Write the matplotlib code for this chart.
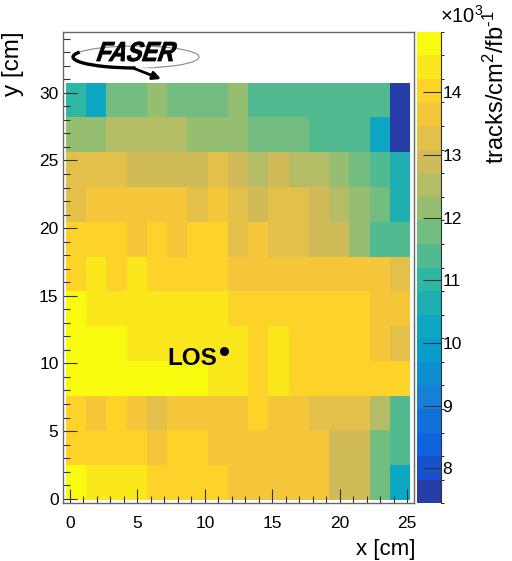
import numpy as np
import matplotlib
matplotlib.use('Agg')
import matplotlib.pyplot as plt
from matplotlib.colors import LinearSegmentedColormap, ListedColormap, BoundaryNorm
from matplotlib.patches import Arc, PathPatch
from matplotlib.textpath import TextPath
from matplotlib.font_manager import FontProperties
from matplotlib.transforms import Affine2D
from matplotlib.ticker import MultipleLocator

plt.rcParams['font.family'] = ['Liberation Sans', 'DejaVu Sans']
plt.rcParams['mathtext.fontset'] = 'custom'
plt.rcParams['mathtext.rm'] = 'Liberation Sans'
plt.rcParams['mathtext.it'] = 'Liberation Sans:italic'
plt.rcParams['mathtext.bf'] = 'Liberation Sans:bold'

# ---------------- data (units of 10^3 tracks/cm^2/fb^-1) ----------------
# rows listed from bottom (y ~ 0 cm) to top (y ~ 30 cm); 17 columns in x
row_00 = [14.8, 14.4, 14.4, 14.4, 14.0, 14.0, 14.0, 14.0, 13.65, 13.65, 13.65, 13.65, 13.65, 12.9, 12.9, 11.75, 10.25]
row_01 = [14.0, 14.0, 14.0, 14.0, 13.65, 14.0, 14.0, 13.65, 13.65, 13.65, 13.65, 13.65, 13.65, 12.9, 12.9, 11.75, 11.4]
row_02 = [14.0, 13.65, 14.0, 13.65, 13.3, 13.65, 13.65, 13.65, 13.65, 14.0, 13.65, 13.65, 13.3, 13.3, 13.3, 12.5, 11.4]
row_03 = [14.8, 14.8, 14.8, 14.8, 14.8, 14.8, 14.8, 14.4, 14.4, 14.0, 14.4, 14.0, 14.0, 14.0, 14.0, 14.0, 14.0]
row_04 = [14.8, 14.8, 14.8, 14.4, 14.4, 14.4, 14.4, 14.4, 14.4, 14.0, 14.4, 14.0, 14.0, 14.0, 14.0, 13.65, 13.3]
row_05 = [14.8, 14.4, 14.4, 14.4, 14.4, 14.4, 14.4, 14.4, 14.0, 14.0, 14.0, 14.0, 14.0, 14.0, 14.0, 13.65, 13.65]
row_06 = [14.0, 14.4, 14.0, 14.4, 14.0, 14.0, 14.0, 14.0, 13.65, 13.65, 13.65, 13.65, 13.65, 13.65, 13.65, 13.65, 13.3]
row_07 = [14.0, 14.0, 14.0, 13.65, 14.0, 13.65, 14.0, 14.0, 13.3, 13.65, 13.3, 13.3, 12.9, 12.9, 12.15, 11.4, 11.4]
row_08 = [13.3, 13.65, 13.65, 13.65, 13.65, 13.65, 13.3, 13.65, 13.3, 12.9, 13.3, 13.3, 12.9, 12.5, 12.15, 11.75, 10.65]
row_09 = [13.3, 13.3, 13.3, 12.9, 12.9, 12.9, 12.9, 13.3, 12.9, 12.5, 12.9, 12.5, 12.5, 12.15, 11.75, 11.4, 10.65]
row_10 = [12.15, 12.15, 12.5, 12.5, 12.5, 12.5, 12.15, 12.15, 12.15, 11.75, 11.75, 11.75, 11.4, 11.4, 11.4, 10.25, 7.6]
row_11 = [11.0, 10.25, 11.75, 11.75, 12.15, 11.75, 11.75, 11.75, 12.15, 11.4, 11.4, 11.4, 11.4, 11.4, 11.4, 11.4, 7.6]

z_min, z_max = 7.44, 14.97          # colour scale range (x10^3)
cbar_ticks = [8, 9, 10, 11, 12, 13, 14]
x_ticks = [0, 5, 10, 15, 20, 25]
y_ticks = [0, 5, 10, 15, 20, 25, 30]
los_x, los_y = 11.45, 10.95          # line-of-sight marker

x_edges = np.linspace(-0.3, 25.2, 18)
y_edges = np.linspace(-0.1, 30.75, 13)
Z = np.array([row_00, row_01, row_02, row_03, row_04, row_05,
              row_06, row_07, row_08, row_09, row_10, row_11])

# ---------------- ROOT kBird palette, 20 contour bands ----------------
stops = [0.0, 0.125, 0.25, 0.375, 0.5, 0.625, 0.75, 0.875, 1.0]
red = [0.2082, 0.0592, 0.0780, 0.0232, 0.1802, 0.5301, 0.8186, 0.9956, 0.9764]
green = [0.1664, 0.3599, 0.5041, 0.6419, 0.7178, 0.7492, 0.7328, 0.7862, 0.9832]
blue = [0.5293, 0.8684, 0.8385, 0.7914, 0.6425, 0.4662, 0.3499, 0.1968, 0.0539]
bird = LinearSegmentedColormap.from_list(
    'bird', list(zip(stops, zip(red, green, blue))), N=255)
nband = 20
cols = [bird(int((i + 0.99) * 255 / nband) / 254.0) for i in range(nband)]
cmap = ListedColormap(cols)
levels = np.linspace(z_min, z_max, nband + 1)
norm = BoundaryNorm(levels, nband)

# ---------------- figure ----------------
W, H = 512, 561
fig = plt.figure(figsize=(W / 100, H / 100), dpi=100)
ax = fig.add_axes([62.7 / W, 1 - 503.3 / H, (414.3 - 62.7) / W, (503.3 - 31.7) / H])
mesh = ax.pcolormesh(x_edges, y_edges, Z, cmap=cmap, norm=norm, edgecolors='face', linewidth=0)
ax.set_xlim(-0.54, 25.52)
ax.set_ylim(-0.34, 34.52)

frame_col = '#666666'
for s in ax.spines.values():
    s.set_color(frame_col)
    s.set_linewidth(1.0)
ax.set_xticks(x_ticks)
ax.set_yticks(y_ticks)
ax.xaxis.set_minor_locator(MultipleLocator(1))
ax.yaxis.set_minor_locator(MultipleLocator(1))
ax.tick_params(which='both', direction='in', top=False, right=False, color='#333333', width=0.8)
ax.tick_params(which='major', length=10, labelsize=12.5)
ax.tick_params(which='minor', length=5)
ax.tick_params(axis='x', which='major', pad=9)
ax.tick_params(axis='y', which='major', pad=3)

ax.plot([los_x], [los_y], 'o', color='black', ms=5.5)
ax.text(los_x - 0.55, los_y - 0.6, 'LOS', fontsize=17.5, fontweight='bold',
        ha='right', va='center')

fig.text(415 / W, 1 - 549 / H, 'x [cm]', fontsize=16, ha='right', va='center')
fig.text(13 / W, 1 - 31 / H, 'y [cm]', fontsize=17.5, ha='center', va='top', rotation=90)

# ---------------- colorbar ----------------
cax = fig.add_axes([416.7 / W, 1 - 503.3 / H, (441 - 416.7) / W, (503.3 - 31.7) / H])
cb = fig.colorbar(mesh, cax=cax, ticks=cbar_ticks, spacing='proportional')
cb.outline.set_visible(False)
cax.plot([1, 1], [0, 1], transform=cax.transAxes, color='#333333', lw=0.8, clip_on=False)
cax.tick_params(direction='in', length=13, width=0.8, labelsize=12.5, pad=1, color='#333333')
cax.set_yticklabels([str(t) for t in cbar_ticks])
fig.text(440 / W, 1 - 23 / H, r'$\times$10$^{3}$', fontsize=14.5, ha='left', va='baseline')
fig.text(496 / W, 1 - 10 / H, r'tracks/cm$^{2}$/fb$^{\text{-}1}$', fontsize=17,
         ha='center', va='top', rotation=90)

# ---------------- FASER logo (drawn in pixel coordinates, y up) ----------------
ov = fig.add_axes([0, 0, 1, 1])
ov.set_xlim(0, W)
ov.set_ylim(0, H)
ov.axis('off')
ov.patch.set_visible(False)
ec = (136, H - 57)
ov.add_patch(Arc(ec, 126, 22, theta1=-40, theta2=175, color='#888888', lw=0.8))
ov.add_patch(Arc(ec, 126, 22, theta1=175, theta2=268, color='black', lw=2.4))
ov.add_patch(Arc(ec, 126, 22, theta1=300, theta2=330, color='#bbbbbb', lw=0.6))
ov.annotate('', xy=(161, H - 79), xytext=(133, H - 68),
            arrowprops=dict(arrowstyle='-|>', color='black', lw=2.0,
                            mutation_scale=12, shrinkA=0, shrinkB=0))
fp = FontProperties(family='Liberation Sans', weight='bold')
tp = TextPath((0, 0), 'FASER', size=27.5, prop=fp)
tr = Affine2D().skew_deg(22, 0).scale(0.85, 1.0).translate(95, H - 61)
ov.add_patch(PathPatch(tr.transform_path(tp), facecolor='black', edgecolor='black', lw=0.6))

fig.savefig('out.png', dpi=100)
